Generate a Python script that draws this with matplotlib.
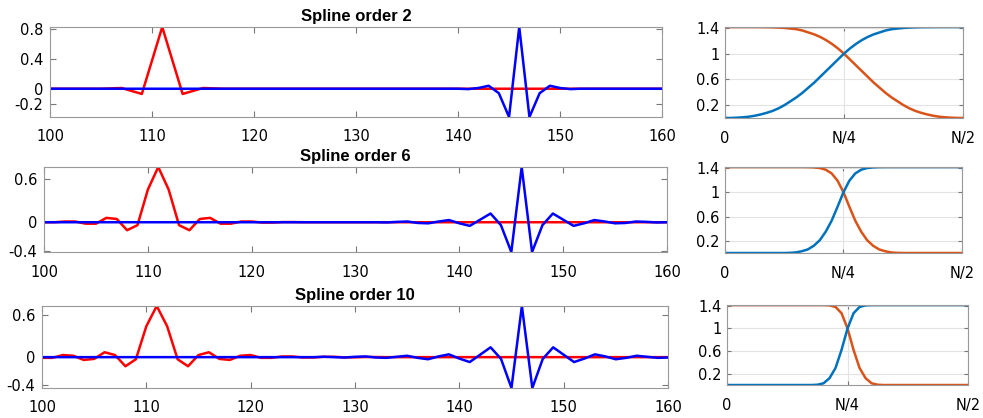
import numpy as np
import matplotlib.pyplot as plt

plt.rcParams['font.family'] = ['DejaVu Sans']
plt.rcParams['axes.unicode_minus'] = False

# ---- left panels: samples at integer positions 100..160 ----
x_left = np.arange(100, 161)

# spline order 2
red_2 = [0, 0, 0, 0, 0, 0, 0.005, 0.01, -0.03, -0.07,
         0.38, 0.83, 0.38, -0.07, -0.03, 0.01, 0.005, 0, 0, 0,
         0, 0, 0, 0, 0, 0, 0, 0, 0, 0,
         0, 0, 0, 0, 0, 0, 0, 0, 0, 0,
         0, 0, 0, 0, 0, 0, 0, 0, 0, 0,
         0, 0, 0, 0, 0, 0, 0, 0, 0, 0, 0]
blue_2 = [0, 0, 0, 0, 0, 0, 0, 0, 0, 0,
          0, 0, 0, 0, 0, 0, 0, 0, 0, 0,
          0, 0, 0, 0, 0, 0, 0, 0, 0, 0,
          0, 0, 0, 0, 0, 0, 0, 0, 0, 0,
          0, -0.005, 0.01, 0.04, -0.06, -0.38, 0.83, -0.38, -0.06, 0.04,
          0.01, -0.005, 0, 0, 0, 0, 0, 0, 0, 0, 0]

# spline order 6
red_6 = [0, 0, 0.01, 0.01, -0.02, -0.02, 0.06, 0.045, -0.11, -0.04,
         0.45, 0.76, 0.45, -0.04, -0.11, 0.045, 0.06, -0.02, -0.02, 0.01,
         0.01, -0.005, -0.005, 0.002, 0.002, 0, 0, 0, 0, 0,
         0, 0, 0, 0, 0, 0, 0, 0, 0, 0,
         0, 0, 0, 0, 0, 0, 0, 0, 0, 0,
         0, 0, 0, 0, 0, 0, 0, 0, 0, 0, 0]
blue_6 = [0, 0, 0, 0, 0, 0, 0, 0, 0, 0,
          0, 0, 0, 0, 0, 0, 0, 0, 0, 0,
          0, 0, 0, 0, 0, 0, 0, 0, 0, 0,
          0, 0, 0, -0.003, 0.005, 0.01, -0.01, -0.015, 0.01, 0.03,
          -0.015, -0.05, 0.035, 0.12, -0.04, -0.41, 0.76, -0.41, -0.04, 0.12,
          0.035, -0.05, -0.015, 0.03, 0.01, -0.015, -0.01, 0.01, 0.005, -0.003, 0]

# spline order 10
red_10 = [-0.01, -0.01, 0.03, 0.02, -0.04, -0.025, 0.07, 0.03, -0.13, -0.03,
          0.44, 0.73, 0.44, -0.03, -0.13, 0.03, 0.07, -0.025, -0.04, 0.02,
          0.03, -0.01, -0.01, 0.01, 0.01, -0.005, -0.005, 0.005, 0.005, -0.003,
          -0.003, 0.002, 0.002, 0, 0, 0, 0, 0, 0, 0,
          0, 0, 0, 0, 0, 0, 0, 0, 0, 0,
          0, 0, 0, 0, 0, 0, 0, 0, 0, 0, 0]
blue_10 = [0, 0, 0, 0, 0, 0, 0, 0, 0, 0,
           0, 0, 0, 0, 0, 0, 0, 0, 0, 0,
           0, 0, 0, 0, 0, 0, 0, 0.005, 0, -0.005,
           0.005, 0.01, -0.005, -0.01, 0.005, 0.02, -0.01, -0.03, 0.01, 0.04,
           -0.02, -0.07, 0.035, 0.14, -0.025, -0.44, 0.73, -0.44, -0.025, 0.14,
           0.035, -0.07, -0.02, 0.04, 0.01, -0.03, -0.01, 0.02, 0.005, -0.01, -0.005]

# ---- right panels: windows over 0..N/2 ----
x_right = np.linspace(0, 1, 41)

rise_2 = [0, 0.001, 0.005, 0.011, 0.02, 0.035, 0.055, 0.08, 0.11, 0.15,
          0.2, 0.26, 0.32, 0.39, 0.47, 0.55, 0.64, 0.73, 0.82, 0.91,
          1.0, 1.08, 1.15, 1.21, 1.26, 1.30, 1.33, 1.36, 1.38, 1.39,
          1.40, 1.406, 1.41, 1.412, 1.413, 1.4138, 1.4141, 1.4142, 1.4142, 1.4142, 1.4142]
fall_2 = [1.4142, 1.4142, 1.4142, 1.4142, 1.4141, 1.4138, 1.413, 1.412, 1.41, 1.406,
          1.40, 1.39, 1.38, 1.36, 1.33, 1.30, 1.26, 1.21, 1.15, 1.08,
          1.0, 0.91, 0.82, 0.73, 0.64, 0.55, 0.47, 0.39, 0.32, 0.26,
          0.2, 0.15, 0.11, 0.08, 0.055, 0.035, 0.02, 0.011, 0.005, 0.001, 0]

rise_6 = [0, 0, 0, 0, 0, 0, 0, 0, 0, 0,
          0, 0.003, 0.01, 0.03, 0.06, 0.12, 0.21, 0.35, 0.53, 0.76,
          1.0, 1.19, 1.31, 1.37, 1.398, 1.409, 1.413, 1.4142, 1.4142, 1.4142,
          1.4142, 1.4142, 1.4142, 1.4142, 1.4142, 1.4142, 1.4142, 1.4142, 1.4142, 1.4142, 1.4142]
fall_6 = [1.4142, 1.4142, 1.4142, 1.4142, 1.4142, 1.4142, 1.4142, 1.4142, 1.4142, 1.4142,
          1.4142, 1.4142, 1.4142, 1.4142, 1.413, 1.409, 1.398, 1.37, 1.31, 1.19,
          1.0, 0.76, 0.53, 0.35, 0.21, 0.12, 0.06, 0.03, 0.01, 0.003,
          0, 0, 0, 0, 0, 0, 0, 0, 0, 0, 0]

rise_10 = [0, 0, 0, 0, 0, 0, 0, 0, 0, 0,
           0, 0, 0, 0, 0, 0.005, 0.03, 0.12, 0.3, 0.62,
           1.0, 1.27, 1.38, 1.409, 1.4139, 1.4142, 1.4142, 1.4142, 1.4142, 1.4142,
           1.4142, 1.4142, 1.4142, 1.4142, 1.4142, 1.4142, 1.4142, 1.4142, 1.4142, 1.4142, 1.4142]
fall_10 = [1.4142, 1.4142, 1.4142, 1.4142, 1.4142, 1.4142, 1.4142, 1.4142, 1.4142, 1.4142,
           1.4142, 1.4142, 1.4142, 1.4142, 1.4142, 1.4142, 1.4139, 1.409, 1.38, 1.27,
           1.0, 0.62, 0.3, 0.12, 0.03, 0.005, 0, 0, 0, 0,
           0, 0, 0, 0, 0, 0, 0, 0, 0, 0, 0]

orders = ['2', '6', '10']
left_series = [(red_2, blue_2), (red_6, blue_6), (red_10, blue_10)]
right_series = [(rise_2, fall_2), (rise_6, fall_6), (rise_10, fall_10)]
left_yticks = [[-0.2, 0, 0.4, 0.8], [-0.4, 0, 0.6], [-0.4, 0, 0.6]]
left_ylabels = [['-0.2', '0', '0.4', '0.8'], ['-0.4', '0', '0.6'], ['-0.4', '0', '0.6']]

left_boxes = [[0.0509, 0.7201, 0.6226, 0.2153],
              [0.0448, 0.3971, 0.6338, 0.2033],
              [0.0427, 0.0718, 0.6368, 0.1962]]
right_boxes = [[0.7375, 0.7177, 0.2421, 0.2177],
               [0.7375, 0.3947, 0.2411, 0.2057],
               [0.7396, 0.0789, 0.2452, 0.1914]]

fig = plt.figure(figsize=(9.83, 4.18), dpi=100)

for k in range(3):
    red, blue = left_series[k]
    ax = fig.add_axes(left_boxes[k])
    ax.plot(x_left, red, color='#ff0000', lw=1.8)
    ax.plot(x_left, blue, color='#0000ff', lw=1.8)
    lo = min(min(red), min(blue))
    hi = max(max(red), max(blue))
    ax.set_xlim(100, 160)
    ax.set_ylim(lo, hi)
    ax.set_xticks(np.arange(100, 161, 10))
    ax.set_yticks(left_yticks[k])
    ax.set_yticklabels(left_ylabels[k])
    ax.tick_params(direction='in', top=True, right=True, length=4, width=0.8,
                   color='#777777', labelsize=10.5)
    ax.tick_params(axis='x', pad=9)
    ax.tick_params(axis='y', pad=5)
    for s in ax.spines.values():
        s.set_color('#999999')
    ax.set_title('Spline order ' + orders[k], fontsize=12, fontweight='bold',
                 family='Liberation Sans', pad=4)

    rise, fall = right_series[k]
    ax2 = fig.add_axes(right_boxes[k])
    ax2.plot(x_right, fall, color='#D95319', lw=1.8)
    ax2.plot(x_right, rise, color='#0072BD', lw=1.8)
    ax2.set_xlim(0, 1)
    ax2.set_ylim(0, 1.4142)
    ax2.set_xticks([0, 0.5, 1])
    ax2.set_xticklabels(['0', 'N/4', 'N/2'])
    ax2.set_yticks([0.2, 0.6, 1, 1.4])
    ax2.set_yticklabels(['0.2', '0.6', '1', '1.4'])
    ax2.grid(True, color='#e3e3e3', lw=0.8)
    ax2.tick_params(direction='in', top=True, right=True, length=3, width=0.8,
                    color='#777777', labelsize=10.5)
    ax2.tick_params(axis='x', pad=9)
    ax2.tick_params(axis='y', pad=4)
    for s in ax2.spines.values():
        s.set_color('#999999')

fig.savefig('out.png', dpi=100)
